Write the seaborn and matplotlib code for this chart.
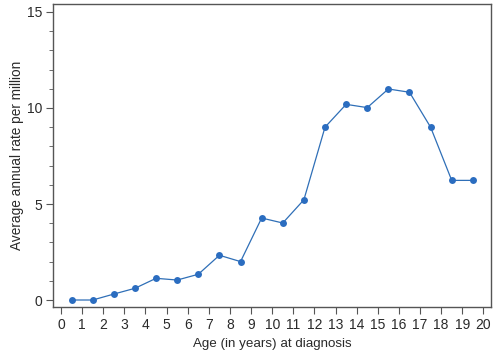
import matplotlib
import numpy as np
import pandas as pd

matplotlib.use("Agg")
import matplotlib.pyplot as plt
import seaborn as sns
from matplotlib.ticker import MultipleLocator

sns.set_style("ticks")
plt.rcParams["font.family"] = ["Liberation Sans", "DejaVu Sans"]

# Data
age = [0.5, 1.5, 2.5, 3.5, 4.5, 5.5, 6.5, 7.5, 8.5, 9.5,
       10.5, 11.5, 12.5, 13.5, 14.5, 15.5, 16.5, 17.5, 18.5, 19.5]
rate = [0.0, 0.0, 0.31, 0.61, 1.13, 1.04, 1.34, 2.33, 2.0, 4.27,
        4.01, 5.22, 9.0, 10.19, 10.02, 10.99, 10.82, 9.0, 6.23, 6.23]
x_ticks = list(range(0, 21))
y_ticks = [0, 5, 10, 15]

df = pd.DataFrame({"age": age, "rate": rate})

fig = plt.figure(figsize=(5, 3.59), dpi=100)
ax = fig.add_axes([0.106, 0.144, 0.876, 0.844])

blue = "#2f6fb7"
sns.lineplot(data=df, x="age", y="rate", ax=ax, color=blue, linewidth=0.9,
             marker="o", markersize=5, markeredgewidth=0, markerfacecolor="#2b6dc0")

ax.set_xlim(-0.38, 20.36)
ax.set_ylim(-0.38, 15.4)
ax.set_xticks(x_ticks)
ax.set_yticks(y_ticks)
ax.yaxis.set_minor_locator(MultipleLocator(1))

for side in ["top", "right", "bottom", "left"]:
    ax.spines[side].set_visible(True)
    ax.spines[side].set_color("#555555")
    ax.spines[side].set_linewidth(1.0)

ax.tick_params(axis="both", which="major", length=5, width=0.8, color="#555555",
               labelsize=10, labelcolor="#2a2a2a", pad=3)
ax.tick_params(axis="y", which="minor", length=3, width=0.6, color="#555555")

ax.set_xlabel("Age (in years) at diagnosis", fontsize=9.6, color="#2a2a2a", labelpad=4)
ax.set_ylabel("Average annual rate per million", fontsize=9.8, color="#2a2a2a", labelpad=2)

fig.savefig("out.png", dpi=100)
